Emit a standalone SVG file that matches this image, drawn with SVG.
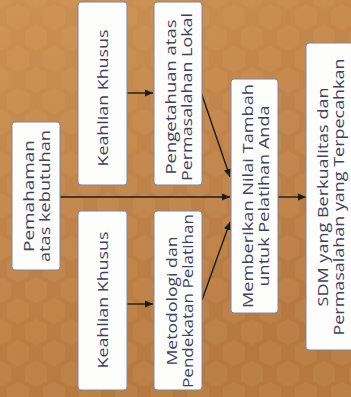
<svg xmlns="http://www.w3.org/2000/svg" width="351" height="397" viewBox="0 0 351 397">
  <defs>
    <linearGradient id="bg" x1="0" y1="0" x2="0.4" y2="1">
      <stop offset="0" stop-color="#cb9152"/>
      <stop offset="0.5" stop-color="#c0844a"/>
      <stop offset="1" stop-color="#b5793f"/>
    </linearGradient>
    <pattern id="hex" width="36" height="42" patternUnits="userSpaceOnUse">
      <polygon points="18,4 29,10 29,24 18,30 7,24 7,10" fill="#e2ab6c" opacity="0.14"/>
      <polygon points="0,25 11,31 11,45 0,51 -11,45 -11,31" fill="#e2ab6c" opacity="0.14"/>
      <polygon points="36,25 47,31 47,45 36,51 25,45 25,31" fill="#e2ab6c" opacity="0.14"/>
      <polygon points="0,-17 11,-11 11,3 0,9 -11,3 -11,-11" fill="#e2ab6c" opacity="0.14"/>
      <polygon points="36,-17 47,-11 47,3 36,9 25,3 25,-11" fill="#e2ab6c" opacity="0.14"/>
    </pattern>
    <marker id="ah" viewBox="0 0 10 10" refX="10" refY="5" markerWidth="8" markerHeight="8" markerUnits="userSpaceOnUse" orient="auto">
      <path d="M0,0.5 L10,5 L0,9.5 Z" fill="#1c1c1c"/>
    </marker>
    <style>
      .box { fill: #fdfdfb; stroke: #7f86a2; stroke-width: 1; }
      .lbl { font-family: "Open Sans", "Noto Sans", sans-serif; font-size: 15px; fill: #3c4262; text-anchor: middle; }
      .cn { stroke: #1c1c1c; stroke-width: 1.4; fill: none; }
    </style>
  </defs>

  <rect x="0" y="0" width="351" height="397" fill="url(#bg)"/>
  <rect x="0" y="0" width="351" height="397" fill="url(#hex)"/>

  <g id="connectors">
    <line class="cn" x1="60" y1="197" x2="230" y2="197" marker-end="url(#ah)" stroke-width="1.6"/>
    <line class="cn" x1="127" y1="93" x2="153" y2="93" marker-end="url(#ah)"/>
    <line class="cn" x1="127" y1="304" x2="153" y2="304" marker-end="url(#ah)"/>
    <line class="cn" x1="201" y1="92" x2="230" y2="177" marker-end="url(#ah)"/>
    <line class="cn" x1="202" y1="300" x2="230" y2="222" marker-end="url(#ah)"/>
    <line class="cn" x1="278" y1="197" x2="306" y2="197" marker-end="url(#ah)"/>
  </g>

  <g id="pemahaman">
    <rect class="box" x="12" y="122" width="48" height="148" rx="3"/>
    <text class="lbl" transform="translate(36,196) rotate(-90)"><tspan x="0" y="-2.5" textLength="112" lengthAdjust="spacingAndGlyphs">Pemahaman</tspan><tspan x="0" y="13.5" textLength="132" lengthAdjust="spacingAndGlyphs">atas kebutuhan</tspan></text>
  </g>

  <g id="keahlian1">
    <rect class="box" x="78" y="2" width="49" height="183" rx="3"/>
    <text class="lbl" transform="translate(102.5,98) rotate(-90)"><tspan x="0" y="5.5" textLength="137" lengthAdjust="spacingAndGlyphs">Keahlian Khusus</tspan></text>
  </g>

  <g id="pengetahuan">
    <rect class="box" x="154" y="2" width="48" height="183" rx="3"/>
    <text class="lbl" transform="translate(178,97) rotate(-90)"><tspan x="0" y="-2" textLength="155" lengthAdjust="spacingAndGlyphs">Pengetahuan atas</tspan><tspan x="0" y="14" textLength="168" lengthAdjust="spacingAndGlyphs">Permasalahan Lokal</tspan></text>
  </g>

  <g id="keahlian2">
    <rect class="box" x="78" y="211" width="49" height="179" rx="3"/>
    <text class="lbl" transform="translate(102.5,300) rotate(-90)"><tspan x="0" y="5.5" textLength="137" lengthAdjust="spacingAndGlyphs">Keahlian Khusus</tspan></text>
  </g>

  <g id="metodologi">
    <rect class="box" x="154" y="211" width="48" height="179" rx="3"/>
    <text class="lbl" transform="translate(178,301) rotate(-90)"><tspan x="0" y="-1.5" textLength="129" lengthAdjust="spacingAndGlyphs">Metodologi dan</tspan><tspan x="0" y="14.5" textLength="174" lengthAdjust="spacingAndGlyphs">Pendekatan Pelatihan</tspan></text>
  </g>

  <g id="memberikan">
    <rect class="box" x="231" y="79" width="47" height="234" rx="3"/>
    <text class="lbl" transform="translate(255,196) rotate(-90)"><tspan x="0" y="-2.5" textLength="224" lengthAdjust="spacingAndGlyphs">Memberikan Nilai Tambah</tspan><tspan x="0" y="13.5" textLength="181" lengthAdjust="spacingAndGlyphs">untuk Pelatihan Anda</tspan></text>
  </g>

  <g id="sdm">
    <rect class="box" x="306" y="43" width="48" height="307" rx="3"/>
    <text class="lbl" transform="translate(330,197) rotate(-90)"><tspan x="0" y="-2.5" textLength="219" lengthAdjust="spacingAndGlyphs">SDM yang Berkualitas dan</tspan><tspan x="0" y="13.5" textLength="277" lengthAdjust="spacingAndGlyphs">Permasalahan yang Terpecahkan</tspan></text>
  </g>
</svg>
